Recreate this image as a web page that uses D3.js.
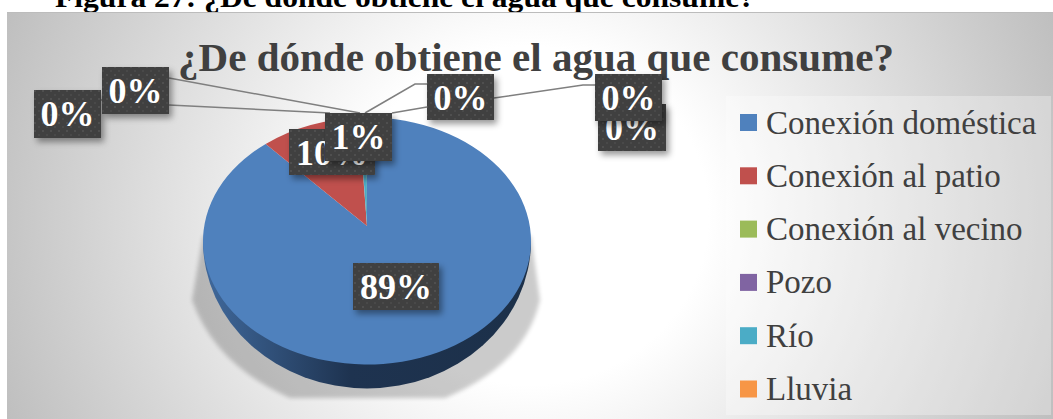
<!DOCTYPE html>
<html>
<head>
<meta charset="utf-8">
<title>Figura 27</title>
<style>
  body {margin: 0; background: #fff; overflow: hidden;}
  svg {display: block;}
</style>
</head>
<body>
<svg id="svg" width="1053" height="419"></svg>
<script src="https://d3js.org/d3.v7.min.js"></script>
<script>
// values
var categories = ["Conexión doméstica", "Conexión al patio", "Conexión al vecino", "Pozo", "Río", "Lluvia"];
var percents = [89.4, 9.8, 0.02, 0.02, 0.74, 0.02];
var colors = ["#4f81bd", "#c0504d", "#9bbb59", "#8064a2", "#4bacc6", "#f79646"];
var heading = "Figura 27: ¿De dónde obtiene el agua que consume?";
var chartTitle = "¿De dónde obtiene el agua que consume?";

var serif = "'Liberation Serif', serif";
var svg = d3.select("#svg");
var defs = svg.append("defs");

// wide ellipse: grey comes mostly from the left and right sides
var bg = defs.append("radialGradient").attr("id", "bg")
  .attr("cx", 0.5).attr("cy", 0.5).attr("r", 0.5)
  .attr("gradientTransform", "translate(0.5,0.5) scale(1.1,2.68) translate(-0.5,-0.5)");
bg.append("stop").attr("offset", "0.31").attr("stop-color", "#ffffff");
bg.append("stop").attr("offset", "1").attr("stop-color", "#bdbdbd");

var side = defs.append("linearGradient").attr("id", "side");
side.append("stop").attr("offset", "0").attr("stop-color", "#40699c");
side.append("stop").attr("offset", "0.45").attr("stop-color", "#1e3350");
side.append("stop").attr("offset", "1").attr("stop-color", "#1c3049");

var dots = defs.append("pattern").attr("id", "dots").attr("patternUnits", "userSpaceOnUse")
  .attr("width", 8).attr("height", 8);
dots.append("rect").attr("width", 8).attr("height", 8).attr("fill", "#3f3f3f");
dots.append("rect").attr("x", 2).attr("y", 2).attr("width", 2).attr("height", 2).attr("fill", "#4f4f4f");
dots.append("rect").attr("x", 6).attr("y", 6).attr("width", 2).attr("height", 2).attr("fill", "#494949");

var shadow = defs.append("filter").attr("id", "shadow")
  .attr("x", "-20%").attr("y", "-20%").attr("width", "150%").attr("height", "160%");
shadow.append("feDropShadow").attr("dx", 3).attr("dy", 4).attr("stdDeviation", 3)
  .attr("flood-color", "#000").attr("flood-opacity", 0.4);

var blur = defs.append("filter").attr("id", "blur")
  .attr("x", "-10%").attr("y", "-10%").attr("width", "120%").attr("height", "120%");
blur.append("feGaussianBlur").attr("stdDeviation", 2);

// page heading, cut off by the top of the window and by the chart
svg.append("text").attr("x", 55).attr("y", 7)
  .attr("font-family", serif).attr("font-weight", "bold")
  .attr("font-size", 30).attr("textLength", 700).attr("lengthAdjust", "spacingAndGlyphs")
  .attr("fill", "#000").text(heading);

svg.append("rect").attr("x", 7).attr("y", 12).attr("width", 1046).attr("height", 407)
  .attr("fill", "url(#bg)");
svg.append("line").attr("x1", 7).attr("x2", 1053).attr("y1", 12.5).attr("y2", 12.5)
  .attr("stroke", "#bcbcbc");

svg.append("text").attr("x", 178).attr("y", 71)
  .attr("font-family", serif).attr("font-weight", "bold").attr("font-size", 41)
  .attr("textLength", 716).attr("lengthAdjust", "spacingAndGlyphs")
  .attr("fill", "#404040").text(chartTitle);

// pie: tilted disc, apex sits above the middle of the ellipse
var cx = 367, cy = 241, rx = 164, ry = 123.5, apexY = 226, wallRy = 147.5;
var xScale = d3.scaleLinear().domain([-1, 1]).range([cx - rx, cx + rx]);
var yScale = d3.scaleLinear().domain([-1, 1]).range([cy - ry, cy + ry]);

var slices = d3.pie().sort(null).value(function(d) { return d; })(percents);

function rim(a) {
  return [xScale(Math.sin(a)), yScale(-Math.cos(a))];
}
function slicePath(d) {
  var p0 = rim(d.startAngle), p1 = rim(d.endAngle);
  var large = d.endAngle - d.startAngle > Math.PI ? 1 : 0;
  return "M" + cx + "," + apexY + "L" + p0 + "A" + rx + "," + ry + " 0 " + large + " 1 " + p1 + "Z";
}

// soft shadow on the wall behind the disc, flat at the bottom
svg.append("path")
  .attr("d", "M203,236L192,300Q215,365 290,398L445,398Q525,365 540,300L531,236Z")
  .attr("fill", "#000").attr("opacity", 0.2).attr("filter", "url(#blur)");

// side wall
svg.append("path")
  .attr("d", "M" + xScale(-1) + "," + cy + "A" + rx + "," + wallRy + " 0 0 0 " + xScale(1) + "," + cy + "Z")
  .attr("fill", "url(#side)");

svg.append("g").selectAll("path").data(slices).enter().append("path")
  .attr("d", slicePath)
  .attr("fill", function(d, i) { return colors[i]; });

// leader lines
var leaderData = [
  [[169, 78], [360, 113]],
  [[169, 105], [330, 113]],
  [[101, 100], [102, 100]],
  [[365, 113], [415, 84], [427, 84]],
  [[392, 113], [427, 107]],
  [[494, 98], [583, 85], [595, 85]]
];
svg.append("g").selectAll("path").data(leaderData).enter().append("path")
  .attr("d", d3.line())
  .attr("fill", "none").attr("stroke", "#7f7f7f").attr("stroke-width", 1.5);

// data labels, draw order keeps the overlaps of the picture
var labelBoxes = [
  {i: 2, x: 34, y: 90, w: 67, h: 48},
  {i: 3, x: 102, y: 67, w: 67, h: 47},
  {i: 1, x: 289, y: 129, w: 86, h: 46},
  {i: 4, x: 325, y: 113, w: 67, h: 48},
  {i: 0, x: 353, y: 263, w: 86, h: 47},
  {i: 5, x: 598, y: 104, w: 68, h: 47},
  {i: 3, x: 595, y: 74, w: 67, h: 47},
  {i: 2, x: 427, y: 74, w: 67, h: 46}
];
var label = svg.append("g").selectAll("g").data(labelBoxes).enter().append("g");
label.append("rect")
  .attr("x", function(d) { return d.x; }).attr("y", function(d) { return d.y; })
  .attr("width", function(d) { return d.w; }).attr("height", function(d) { return d.h; })
  .attr("fill", "url(#dots)").attr("filter", "url(#shadow)");
label.append("text")
  .attr("x", function(d) { return d.x + d.w / 2; }).attr("y", function(d) { return d.y + 36; })
  .attr("text-anchor", "middle").attr("font-family", serif).attr("font-weight", "bold")
  .attr("font-size", 36).attr("fill", "#fff")
  .text(function(d) { return Math.round(percents[d.i]) + "%"; });

// legend
svg.append("rect").attr("x", 726).attr("y", 96).attr("width", 325).attr("height", 319)
  .attr("fill", "#fff").attr("opacity", 0.3);
var legendY = d3.scalePoint().domain(categories).range([122.5, 389]);
var row = svg.append("g").selectAll("g").data(categories).enter().append("g")
  .attr("transform", function(d) { return "translate(740," + legendY(d) + ")"; });
row.append("rect").attr("y", -8.5).attr("width", 17).attr("height", 17)
  .attr("fill", function(d, i) { return colors[i]; });
row.append("text").attr("x", 26).attr("y", 11)
  .attr("font-family", serif).attr("font-size", 33).attr("fill", "#404040")
  .text(function(d) { return d; });
</script>
</body>
</html>
